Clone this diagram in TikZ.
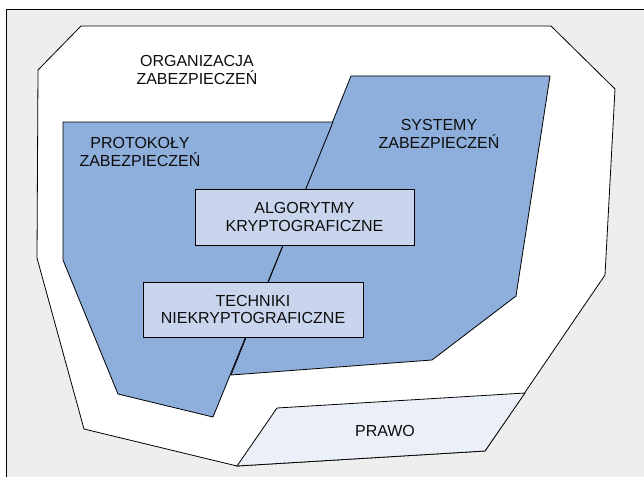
\documentclass[tikz,border=0pt]{standalone}
\usepackage{fontspec}
\setmainfont{Liberation Sans}
\definecolor{bgray}{RGB}{238,238,238}
\definecolor{blueA}{RGB}{142,174,219}
\definecolor{boxB}{RGB}{201,213,236}
\definecolor{lawC}{RGB}{235,240,248}
\begin{document}
\begin{tikzpicture}[x=1pt,y=-1pt,
  region/.style={draw=black,line width=0.8pt,line join=miter},
  lbl/.style={align=center,font=\fontsize{16}{17.7}\selectfont,text=black!95,inner sep=0pt},
  boxn/.style={draw=black,line width=0.8pt,fill=boxB,minimum width=#1,inner sep=0pt}]
\useasboundingbox (0,0) rectangle (644,476);
\fill[white] (0,0) rectangle (644,476);
% frame
\draw[fill=bgray,line width=0.9pt] (6,9) rectangle (660,490);
% organisation polygon
\draw[region,fill=white] (81,26) -- (551,26) -- (615,89) -- (605,275) -- (485,451) -- (237,466) -- (84,429) -- (37,258) -- (38,70) -- cycle;
% law
\draw[region,fill=lawC] (277,408) -- (525,393) -- (485,451) -- (237,466) -- cycle;
% systems
\draw[region,fill=blueA] (351,76) -- (550,76) -- (516,296) -- (432,360) -- (231,375) -- cycle;
% protocols
\draw[region,fill=blueA] (63,122) -- (333,122) -- (213,417) -- (118,394) -- (63,260) -- cycle;
% boxes
\node[boxn=219pt,minimum height=56pt,lbl] (alg) at (304.5,217) {ALGORYTMY\\KRYPTOGRAFICZNE};
\node[boxn=220pt,minimum height=55pt,lbl] (tech) at (253,309.5) {TECHNIKI\\NIEKRYPTOGRAFICZNE};
% labels
\node[lbl] (org) at (197,70) {ORGANIZACJA\\ZABEZPIECZEŃ};
\node[lbl] (prot) at (140,152) {PROTOKOŁY\\ZABEZPIECZEŃ};
\node[lbl] (sys) at (439,134) {SYSTEMY\\ZABEZPIECZEŃ};
\node[lbl] (law) at (385,431) {PRAWO};
\end{tikzpicture}
\end{document}
